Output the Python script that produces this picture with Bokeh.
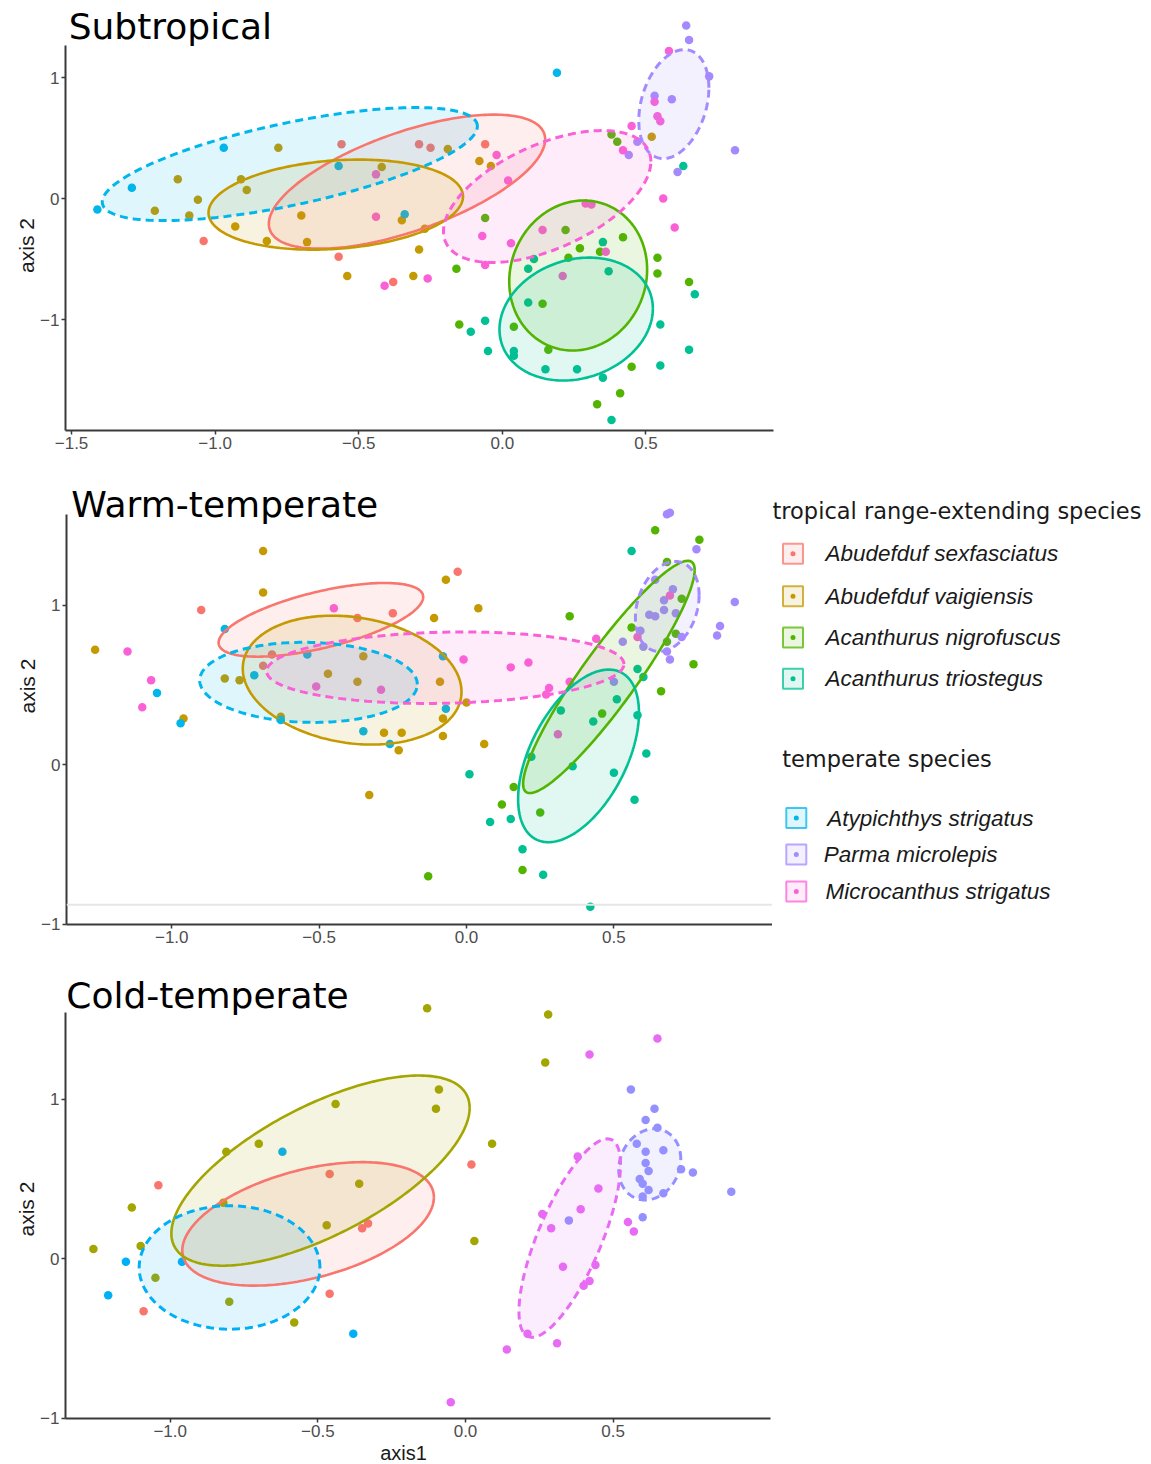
import numpy as np
from bokeh.plotting import figure
from bokeh.models import Range1d, FixedTicker, Label, Span, Title
from bokeh.layouts import column, row
from bokeh.embed import file_html
from bokeh.resources import INLINE
from bokeh.core.properties import value

# ---------------- categories ----------------
SPECIES = ["Abudefduf sexfasciatus", "Abudefduf vaigiensis", "Acanthurus nigrofuscus",
           "Acanthurus triostegus", "Atypichthys strigatus", "Parma microlepis",
           "Microcanthus strigatus"]
TROPICAL = SPECIES[:4]
TEMPERATE = SPECIES[4:]
PALETTE = ["#F8766D", "#C49A00", "#53B400", "#00C094", "#00B6EB", "#A58AFF", "#FB61D7"]
COLD_PALETTE = {"Abudefduf sexfasciatus": "#F8766D", "Abudefduf vaigiensis": "#A3A500",
                "Atypichthys strigatus": "#00B0F6", "Parma microlepis": "#9590FF",
                "Microcanthus strigatus": "#E76BF3"}

# ---------------- Subtropical (axis1, axis2) ----------------
st_sex = [(-0.56, 0.45), (-0.29, 0.45), (-0.25, 0.42), (-0.06, 0.45), (-1.04, -0.35),
          (-0.57, -0.48), (-0.38, -0.69)]
st_vai = [(-0.78, 0.42), (-1.13, 0.16), (-1.06, -0.01), (-1.21, -0.10), (-1.09, -0.14),
          (-0.91, 0.16), (-0.89, 0.07), (-0.93, -0.23), (-0.82, -0.35), (-0.68, -0.36),
          (-0.70, -0.14), (-0.42, 0.26), (-0.35, -0.18), (-0.29, -0.42), (-0.54, -0.64),
          (-0.31, -0.64), (-0.19, 0.41), (-0.08, 0.31), (-0.04, 0.27), (-0.27, -0.25),
          (0.52, 0.51)]
st_nig = [(0.38, 0.53), (0.40, 0.47), (-0.06, -0.16), (0.22, -0.26), (0.42, -0.32),
          (0.27, -0.41), (0.34, -0.44), (0.23, -0.49), (-0.16, -0.58), (0.54, -0.49),
          (0.54, -0.62), (0.65, -0.69), (0.14, -0.87), (-0.15, -1.04), (0.16, -1.25),
          (0.45, -1.39), (0.41, -1.61), (0.33, -1.70), (0.04, -1.06)]
st_tri = [(0.63, 0.27), (0.35, -0.36), (0.11, -0.50), (0.09, -0.58), (0.37, -0.60),
          (0.67, -0.79), (0.09, -0.86), (-0.06, -1.01), (-0.11, -1.10), (0.55, -1.04),
          (-0.05, -1.26), (0.04, -1.26), (0.04, -1.30), (0.15, -1.41), (0.26, -1.41),
          (0.35, -1.48), (0.65, -1.25), (0.55, -1.38), (0.38, -1.83)]
st_aty = [(-1.41, -0.09), (-1.29, 0.09), (-0.97, 0.42), (-0.57, 0.27), (-0.34, -0.13),
          (0.19, 1.04)]
st_par = [(0.64, 1.43), (0.65, 1.31), (0.72, 1.01), (0.53, 0.85), (0.59, 0.82),
          (0.47, 0.47), (0.44, 0.36), (0.61, 0.22), (0.81, 0.40)]
st_mic = [(-0.44, 0.20), (-0.44, -0.15), (-0.41, -0.72), (0.58, 1.22), (0.53, 0.80),
          (0.54, 0.68), (0.55, 0.64), (0.45, 0.60), (0.42, 0.40), (-0.02, 0.36),
          (0.02, 0.15), (0.56, 0.00), (0.60, -0.24), (0.29, -0.04), (0.31, -0.05),
          (0.14, -0.26), (-0.07, -0.31), (0.03, -0.37), (0.36, -0.44), (0.21, -0.64),
          (-0.06, -0.55), (-0.26, -0.66)]
# ellipse: centre x, centre y, half-width x, half-height y, correlation
st_ell_cx = [-0.332, -0.580, 0.264, 0.257, -0.740, 0.597, 0.156]
st_ell_cy = [0.140, -0.050, -0.636, -0.996, 0.285, 0.781, 0.017]
st_ell_wx = [0.481, 0.443, 0.240, 0.267, 0.653, 0.122, 0.361]
st_ell_wy = [0.554, 0.372, 0.620, 0.508, 0.467, 0.450, 0.545]
st_ell_r = [0.63, 0.18, 0.08, 0.17, 0.67, 0.30, 0.53]

# ---------------- Warm-temperate ----------------
wt_sex = [(-0.90, 0.97), (-0.03, 1.21), (-0.25, 0.95), (-0.37, 0.92), (-0.66, 0.69),
          (-0.69, 0.62)]
wt_vai = [(-1.26, 0.72), (-0.69, 1.34), (-0.69, 1.08), (-0.82, 0.54), (-0.77, 0.53),
          (-0.47, 0.57), (-0.37, 0.52), (-0.35, 0.68), (-0.63, 0.30), (-0.09, 0.52),
          (-0.11, 0.92), (-0.07, 1.16), (0.04, 0.98), (0.00, 0.39), (-0.08, 0.29),
          (-0.08, 0.18), (-0.28, 0.20), (-0.22, 0.20), (-0.23, 0.09), (-0.33, -0.19),
          (-0.96, 0.29), (0.06, 0.13)]
wt_nig = [(0.64, 1.47), (0.79, 1.41), (0.68, 1.27), (0.73, 1.04), (0.71, 0.82),
          (0.68, 0.77), (0.35, 0.93), (0.56, 0.86), (0.77, 0.63), (0.66, 0.46),
          (0.46, 0.32), (0.16, -0.14), (0.12, -0.25), (0.19, -0.66), (-0.13, -0.70),
          (0.25, -0.30)]
wt_tri = [(0.01, -0.06), (0.56, 1.34), (0.58, 0.60), (0.60, 0.55), (0.51, 0.41),
          (0.32, 0.34), (0.43, 0.27), (0.58, 0.31), (0.22, 0.05), (0.36, -0.01),
          (0.61, 0.07), (0.50, -0.05), (0.57, -0.22), (0.08, -0.36), (0.15, -0.34),
          (0.19, -0.53), (0.26, -0.69), (0.42, -0.89)]
wt_aty = [(-0.82, 0.85), (-1.05, 0.45), (-0.97, 0.26), (-0.72, 0.56), (-0.54, 0.69),
          (-0.35, 0.21), (-0.26, 0.13), (-0.07, 0.35), (-0.08, 0.68), (-0.63, 0.28)]
wt_par = [(0.68, 1.57), (0.69, 1.58), (0.78, 1.35), (0.64, 1.16), (0.70, 1.10),
          (0.67, 1.03), (0.67, 0.97), (0.62, 0.94), (0.64, 0.93), (0.71, 0.95),
          (0.59, 0.84), (0.60, 0.74), (0.73, 0.80), (0.68, 0.71), (0.69, 0.66),
          (0.53, 0.77), (0.50, 0.52), (0.91, 1.02), (0.86, 0.87), (0.85, 0.81)]
wt_mic = [(-1.15, 0.71), (-1.07, 0.53), (-1.10, 0.36), (-0.45, 0.98), (-0.51, 0.49),
          (-0.29, 0.47), (-0.01, 0.66), (0.15, 0.61), (0.21, 0.64), (0.28, 0.48),
          (0.27, 0.44), (0.35, 0.52), (0.44, 0.79), (0.31, 0.19), (0.58, 0.80),
          (0.69, 1.06)]
wt_ell_cx = [-0.494, -0.388, 0.483, 0.380, -0.536, 0.681, -0.072]
wt_ell_cy = [0.908, 0.530, 0.550, 0.055, 0.516, 0.992, 0.608]
wt_ell_wx = [0.347, 0.371, 0.291, 0.205, 0.369, 0.108, 0.606]
wt_ell_wy = [0.231, 0.404, 0.728, 0.541, 0.251, 0.282, 0.224]
wt_ell_r = [0.62, -0.18, 0.92, 0.50, -0.05, 0.25, 0.10]

# ---------------- Cold-temperate ----------------
ct_sex = [(-1.04, 0.46), (-0.46, 0.53), (-0.35, 0.19), (-0.33, 0.22), (-0.46, -0.22),
          (-1.09, -0.33), (0.02, 0.59)]
ct_vai = [(-0.13, 1.57), (-0.09, 1.06), (-0.10, 0.94), (-0.44, 0.97), (-0.70, 0.72),
          (-0.81, 0.67), (-0.36, 0.47), (-0.82, 0.35), (-0.47, 0.21), (-1.13, 0.32),
          (-1.26, 0.06), (-1.10, 0.08), (-1.05, -0.12), (-0.80, -0.27), (-0.58, -0.40),
          (0.28, 1.53), (0.27, 1.23), (0.09, 0.72), (0.03, 0.11)]
ct_aty = [(-0.62, 0.67), (-1.15, -0.02), (-0.96, -0.02), (-1.21, -0.23), (-0.38, -0.47)]
ct_par = [(0.56, 1.06), (0.64, 0.94), (0.61, 0.87), (0.65, 0.82), (0.58, 0.72),
          (0.61, 0.67), (0.67, 0.68), (0.61, 0.60), (0.62, 0.55), (0.73, 0.56),
          (0.77, 0.54), (0.59, 0.50), (0.60, 0.47), (0.62, 0.43), (0.60, 0.39),
          (0.67, 0.41), (0.90, 0.42), (0.60, 0.26), (0.35, 0.24)]
ct_mic = [(0.65, 1.38), (0.42, 1.28), (0.38, 0.64), (0.45, 0.44), (0.39, 0.31),
          (0.26, 0.28), (0.29, 0.19), (0.55, 0.23), (0.57, 0.17), (0.33, -0.05),
          (0.44, -0.04), (0.42, -0.14), (0.40, -0.17), (0.21, -0.47), (0.31, -0.53),
          (0.14, -0.57), (-0.05, -0.90)]
ct_species = ["Abudefduf sexfasciatus", "Abudefduf vaigiensis", "Atypichthys strigatus",
              "Parma microlepis", "Microcanthus strigatus"]
ct_ell_cx = [-0.533, -0.491, -0.799, 0.624, 0.353]
ct_ell_cy = [0.218, 0.552, -0.055, 0.591, 0.129]
ct_ell_wx = [0.426, 0.505, 0.306, 0.105, 0.172]
ct_ell_wy = [0.387, 0.596, 0.387, 0.223, 0.622]
ct_ell_r = [0.43, 0.66, 0.00, 0.15, 0.74]

# ---------------- tick labels ----------------
x_ticks_st = [-1.5, -1.0, -0.5, 0.0, 0.5]
x_labels_st = ["\u22121.5", "\u22121.0", "\u22120.5", "0.0", "0.5"]
x_ticks = [-1.0, -0.5, 0.0, 0.5]
x_labels = ["\u22121.0", "\u22120.5", "0.0", "0.5"]
y_ticks = [-1, 0, 1]
y_labels = ["\u22121", "0", "1"]

DASHED = set(TEMPERATE)
AXIS_COLOR = "#3a3a3a"


def ellipse_xy(cx, cy, wx, wy, r, n=240):
    t = np.linspace(0, 2 * np.pi, n)
    x = cx + wx * np.cos(t)
    y = cy + wy * (r * np.cos(t) + np.sqrt(1 - r * r) * np.sin(t))
    return x, y


def make_panel(species, groups, colors, ell, width, height, borders, xr, yr,
               xt, xl, ybounds, title, title_xy, ylab_offset, xlab_offset=None):
    left, right, top, bottom = borders
    p = figure(width=width, height=height, x_range=Range1d(*xr), y_range=Range1d(*yr),
               toolbar_location=None, output_backend="svg",
               min_border_left=left, min_border_right=right,
               min_border_top=top, min_border_bottom=bottom)
    p.outline_line_color = None
    p.grid.grid_line_color = None
    p.background_fill_color = "white"
    for ax in (p.xaxis[0], p.yaxis[0]):
        ax.axis_line_color = AXIS_COLOR
        ax.axis_line_width = 2
        ax.major_tick_line_color = AXIS_COLOR
        ax.major_tick_line_width = 1.5
        ax.major_tick_out = 4
        ax.major_tick_in = 0
        ax.minor_tick_line_color = None
        ax.major_label_text_font = "Liberation Sans"
        ax.major_label_text_font_size = "17px"
        ax.major_label_text_color = "#4D4D4D"
        ax.major_label_standoff = 2
    p.xaxis.ticker = FixedTicker(ticks=xt)
    p.xaxis.major_label_overrides = {t: l for t, l in zip(xt, xl)}
    p.yaxis.ticker = FixedTicker(ticks=y_ticks)
    p.yaxis.major_label_overrides = {t: l for t, l in zip(y_ticks, y_labels)}
    p.yaxis.bounds = ybounds

    # points
    for sp, pts in zip(species, groups):
        p.scatter([a for a, b in pts], [b for a, b in pts], size=8.5,
                  fill_color=colors[sp], line_color=None, fill_alpha=1.0)
    # ellipses
    cx, cy, wx, wy, rr = ell
    shapes = []
    for i, sp in enumerate(species):
        ex, ey = ellipse_xy(cx[i], cy[i], wx[i], wy[i], rr[i])
        shapes.append((sp, ex, ey))
        p.patch(ex, ey, fill_color=colors[sp], fill_alpha=0.12, line_color=None)
    for sp, ex, ey in shapes:
        if sp in DASHED:
            p.line(ex, ey, line_color=colors[sp], line_width=3, line_dash="8 5")
        else:
            p.line(ex, ey, line_color=colors[sp], line_width=2.6)

    p.add_layout(Label(x=title_xy[0], y=title_xy[1], text=title, text_font="DejaVu Sans",
                       text_font_size="36px", text_color="black",
                       text_baseline="alphabetic", text_align="left"))
    p.add_layout(Title(text="axis 2", align="left", offset=ylab_offset, standoff=0,
                       text_font="Liberation Sans", text_font_size="21px",
                       text_font_style="normal", text_color="#1a1a1a"), "left")
    if xlab_offset is not None:
        p.add_layout(Title(text="axis1", align="left", offset=xlab_offset, standoff=0,
                           text_font="Liberation Sans", text_font_size="20px",
                           text_font_style="normal", text_color="#1a1a1a"), "below")
    return p


pal = dict(zip(SPECIES, PALETTE))

p1 = make_panel(SPECIES, [st_sex, st_vai, st_nig, st_tri, st_aty, st_par, st_mic], pal,
                (st_ell_cx, st_ell_cy, st_ell_wx, st_ell_wy, st_ell_r),
                783, 465, (63, 10, 8, 35), (-1.521, 0.944), (-1.917, 1.571),
                x_ticks_st, x_labels_st, (-1.917, 1.264), "Subtropical", (-1.510, 1.422),
                157.6)

p2 = make_panel(SPECIES, [wt_sex, wt_vai, wt_nig, wt_tri, wt_aty, wt_par, wt_mic], pal,
                (wt_ell_cx, wt_ell_cy, wt_ell_wx, wt_ell_wy, wt_ell_r),
                772, 495, (66, 0, 13, 36), (-1.357, 1.038), (-1.002, 1.794),
                x_ticks, x_labels, (-1.002, 1.567), "Warm-temperate", (-1.341, 1.634),
                211.0)
p2.add_layout(Span(location=-0.878, dimension="width", line_color="#e6e6e6", line_width=2))

p3 = make_panel(ct_species, [ct_sex, ct_vai, ct_aty, ct_par, ct_mic], COLD_PALETTE,
                (ct_ell_cx, ct_ell_cy, ct_ell_wx, ct_ell_wy, ct_ell_r),
                780, 504, (65, 10, 8, 46), (-1.3545, 1.0328), (-1.002, 1.819),
                x_ticks, x_labels, (-1.002, 1.542), "Cold-temperate", (-1.352, 1.649),
                182.0, xlab_offset=314.7)

# ---------------- legend panel (frame aligned with the warm-temperate panel) ----------------
leg = figure(width=375, height=495, x_range=Range1d(0, 375), y_range=Range1d(459, 13),
             toolbar_location=None, output_backend="svg", x_axis_location=None,
             y_axis_location=None, min_border_left=0, min_border_right=0,
             min_border_top=13, min_border_bottom=36)
leg.outline_line_color = None
leg.grid.grid_line_color = None

box_x = [20.5, 20.5, 20.5, 20.5, 23.8, 23.8, 23.8]
box_y = [88.3, 130.8, 172.0, 213.3, 352.5, 389.0, 426.0]
lab_x = [53, 53, 53, 53, 54.7, 51.3, 53]
leg.rect(box_x, box_y, width=20, height=20, fill_color=PALETTE, fill_alpha=0.12,
         line_color=PALETTE, line_width=2, line_alpha=0.75)
leg.scatter(box_x, box_y, size=5, fill_color=PALETTE, line_color=None)
leg.text(lab_x, box_y, text=SPECIES, text_font=value("Liberation Sans"),
         text_font_style="italic", text_font_size="22.5px", text_baseline="middle",
         text_color="#1a1a1a")
leg.text([0, 9.7], [45, 293.3], text=["tropical range-extending species", "temperate species"],
         text_font=value("DejaVu Sans"), text_font_size="22.5px", text_baseline="middle",
         text_color="#1a1a1a")

layout = column(p1, row(p2, leg), p3)
open("out.html", "w").write(file_html(layout, INLINE))
